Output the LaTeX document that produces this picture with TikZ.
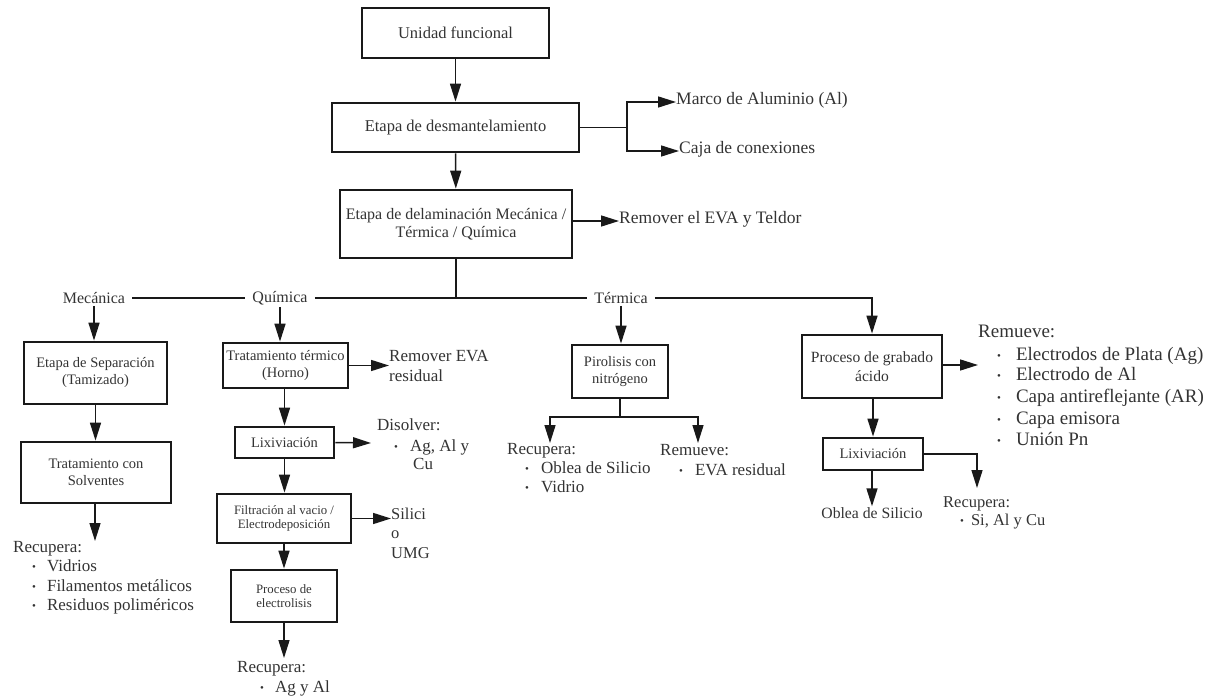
\documentclass[tikz,border=0pt]{standalone}
\usepackage{fontspec}
\setmainfont{Liberation Serif}
\usetikzlibrary{arrows.meta}
\newcommand{\bul}[1]{{\fontsize{11}{11}\selectfont\raisebox{0.5pt}{\textbullet}}\hspace{#1}}
\begin{document}
\begin{tikzpicture}[x=1pt,y=-1pt,
  box/.style={draw=black!90,line width=2.8pt,align=center,text=black!80,inner sep=1pt},
  conn/.style={draw=black!90,line width=1.5pt},
  arr/.style={conn,-{Triangle[length=18pt,width=11pt]}},
  lab/.style={text=black!80,inner sep=0pt,anchor=west,align=left,text height=.68em,text depth=.2em},
  labm/.style={text=black!80,inner sep=0pt,anchor=west,align=left},
  brl/.style={text=black!80,inner xsep=7pt,inner ysep=2pt,font=\fontsize{16}{18}\selectfont},
  fL/.style={font=\fontsize{16.5}{20}\selectfont},
  fM/.style={font=\fontsize{14.5}{17}\selectfont},
  fS/.style={font=\fontsize{12.8}{14}\selectfont},
  fT/.style={font=\fontsize{17}{20}\selectfont},
  fR/.style={font=\fontsize{19}{21}\selectfont}
]
\useasboundingbox (0,0) rectangle (1212,700);

% main column
\node[box,fL,minimum width=187pt,minimum height=50pt] (uf) at (455.5,33) {Unidad funcional};
\node[box,fL,minimum width=247pt,minimum height=49pt] (desm) at (455.5,127.5) {Etapa de desmantelamiento};
\node[box,font=\fontsize{16}{18}\selectfont,minimum width=232pt,minimum height=68pt] (delam) at (456,224) {Etapa de delaminación Mecánica /\\Térmica / Química};

\draw[arr] (uf) -- (desm);
\draw[arr] (desm) -- (delam);

\node[lab,font=\fontsize{17.5}{20}\selectfont] (marco) at (676,102) {Marco de Aluminio (Al)};
\node[lab,font=\fontsize{17.5}{20}\selectfont] (caja) at (679,151) {Caja de conexiones};
\coordinate (dj) at (627,127.5);
\draw[conn] (desm.east) -- (dj);
\draw[arr] (dj) |- (marco.west);
\draw[arr] (dj) |- (caja.west);

\node[lab,font=\fontsize{17.5}{20}\selectfont] (teldor) at (619,221) {Remover el EVA y Teldor};
\draw[arr] (delam.east |- teldor.west) -- (teldor.west);

% grabado box (placed early for connectors)
\node[box,font=\fontsize{15.6}{19.5}\selectfont,minimum width=140pt,minimum height=63pt] (grab) at (872,366.5) {Proceso de grabado\\ácido};

% branch labels
\node[brl] (mec) at (94,298) {Mecánica};
\node[brl] (quim) at (280,298) {Química};
\node[brl] (term) at (621,298) {Térmica};
\draw[conn] (mec.east) -- (quim.west);
\draw[conn] (quim.east) -- (term.west);
\draw[conn] (delam.south) -- (delam.south |- quim.east);
\draw[arr] (term.east) -| (grab.north);

% Mecanica column
\node[box,fM,minimum width=143pt,minimum height=62pt] (sep) at (95.5,373) {Etapa de Separación\\(Tamizado)};
\node[box,fM,minimum width=150pt,minimum height=61pt] (solv) at (96,472.5) {Tratamiento con\\Solventes};
\draw[arr] (mec.south) -- (mec.south |- sep.north);
\draw[arr] (sep) -- (sep.south |- solv.north);
\coordinate (solvend) at (95,541);
\draw[arr] (solv.south -| solvend) -- (solvend);
\node[lab,fT] (rec1) at (13,550) {Recupera:};
\node[lab,fT] (rec1a) at (32,569) {\bul{11pt}Vidrios};
\node[lab,fT] (rec1b) at (32,589) {\bul{11pt}Filamentos metálicos};
\node[lab,fT] (rec1c) at (32,608) {\bul{11pt}Residuos poliméricos};

% Quimica column
\node[box,fM,minimum width=125pt,minimum height=45pt] (horno) at (285.5,365.5) {Tratamiento térmico\\(Horno)};
\node[box,fM,minimum width=99pt,minimum height=31pt] (lix1) at (284.5,442.5) {Lixiviación};
\node[box,fS,minimum width=134pt,minimum height=49pt] (filt) at (284,518.5) {Filtración al vacio /\\Electrodeposición};
\node[box,font=\fontsize{12.8}{13.5}\selectfont,minimum width=106pt,minimum height=52pt] (elec) at (284,596) {Proceso de\\electrolisis};
\draw[arr] (quim.south) -- (quim.south |- horno.north);
\draw[arr] (horno.south -| lix1.north) -- (lix1.north);
\draw[arr] (lix1.south) -- (lix1.south |- filt.north);
\draw[arr] (filt.south) -- (filt.south |- elec.north);
\coordinate (elecend) at (284,658);
\draw[arr] (elec.south) -- (elecend);
\node[lab,fT] (rec2) at (237,670) {Recupera:};
\node[lab,fT] (rec2a) at (260,690) {\bul{11pt}Ag y Al};

\node[labm,fT] (remeva) at (389,366) {Remover EVA\\residual};
\draw[arr] (horno.east) -- (horno.east -| remeva.west);
\node[lab,fT] (disol) at (377,428) {Disolver:};
\node[lab,fT] (disa) at (394,449) {\bul{12pt}Ag, Al y};
\node[lab,fT] (disb) at (413,467) {Cu};
\coordinate (lixend) at (371,443);
\draw[arr] (lix1.east) -- (lixend);
\node[labm,font=\fontsize{16.5}{19.5}\selectfont] (silici) at (391,533) {Silici\\o\\UMG};
\draw[arr] (filt.east) -- (filt.east -| silici.west);

% Termica: pirolisis
\node[box,fM,minimum width=96pt,minimum height=53pt] (piro) at (620,371.5) {Pirolisis con\\nitrógeno};
\draw[arr] (term.south) -- (term.south |- piro.north);
\coordinate (pj) at (620,417);
\coordinate (pl) at (550,443);
\coordinate (pr) at (698,443);
\draw[conn] (piro.south) -- (pj);
\draw[arr] (pj) -| (pl);
\draw[arr] (pj) -| (pr);
\node[lab,fT] (rec3) at (507,452) {Recupera:};
\node[lab,fT] (rec3a) at (525,471) {\bul{12pt}Oblea de Silicio};
\node[lab,fT] (rec3b) at (525,490) {\bul{12pt}Vidrio};
\node[lab,fT] (rem3) at (660,453) {Remueve:};
\node[lab,fT] (rem3a) at (679,473) {\bul{12pt}EVA residual};

% grabado column
\node[box,fM,minimum width=100pt,minimum height=32pt] (lix2) at (873,454) {Lixiviación};
\draw[arr] (grab.south -| lix2.north) -- (lix2.north);
\node[lab,fR] (rem4) at (978,335) {Remueve:};
\node[lab,fR] (rem4a) at (997,358) {\bul{15pt}Electrodos de Plata (Ag)};
\node[lab,fR] (rem4b) at (997,378) {\bul{15pt}Electrodo de Al};
\node[lab,fR] (rem4c) at (997,400) {\bul{15pt}Capa antireflejante (AR)};
\node[lab,fR] (rem4d) at (997,422) {\bul{15pt}Capa emisora};
\node[lab,fR] (rem4e) at (997,443) {\bul{15pt}Unión Pn};
\coordinate (grabend) at (978,365);
\draw[arr] (grab.east |- grabend) -- (grabend);

\node[text=black!80,inner sep=1pt,font=\fontsize{15.7}{18}\selectfont] (oblea) at (872,513) {Oblea de Silicio};
\draw[arr] (lix2.south -| oblea.north) -- (oblea.north);
\coordinate (lixr) at (977,488);
\draw[arr] (lix2.east) -| (lixr);
\node[lab,font=\fontsize{16.5}{19}\selectfont] (rec4) at (943,505) {Recupera:};
\node[lab,font=\fontsize{16.5}{19}\selectfont] (rec4a) at (960,523) {\bul{7pt}Si, Al y Cu};
\end{tikzpicture}
\end{document}
